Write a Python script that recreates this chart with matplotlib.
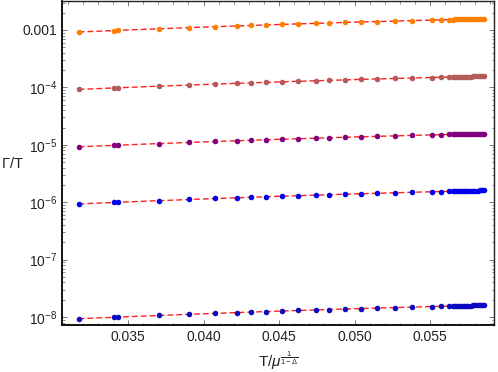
import numpy as np
import matplotlib
matplotlib.use("Agg")
import matplotlib.pyplot as plt
from matplotlib.ticker import FixedLocator, FixedFormatter, MultipleLocator, LogLocator, NullFormatter

plt.rcParams['font.family'] = ['Liberation Sans', 'DejaVu Sans']
plt.rcParams['mathtext.fontset'] = 'custom'
plt.rcParams['mathtext.rm'] = 'Liberation Sans'
plt.rcParams['mathtext.it'] = 'Liberation Sans:italic'
plt.rcParams['mathtext.bf'] = 'Liberation Sans:bold'

# ---- data ----
x_vals = [0.03172, 0.03404, 0.03430, 0.03702, 0.03901, 0.04073, 0.04219, 0.04311,
          0.04411, 0.04517, 0.04623, 0.04742, 0.04834, 0.04940, 0.05040, 0.05152,
          0.05265, 0.05384, 0.05510, 0.05576, 0.05623, 0.05650, 0.05665, 0.05680,
          0.05695, 0.05710, 0.05725, 0.05740, 0.05755, 0.05770, 0.05785, 0.05800,
          0.05815, 0.05830, 0.05845, 0.05860]

orange = [0.920e-3, 0.978e-3, 0.985e-3, 1.052e-3, 1.101e-3, 1.144e-3, 1.179e-3, 1.202e-3,
          1.226e-3, 1.251e-3, 1.277e-3, 1.305e-3, 1.327e-3, 1.353e-3, 1.376e-3, 1.403e-3,
          1.430e-3, 1.458e-3, 1.487e-3, 1.503e-3, 1.514e-3, 1.520e-3, 1.524e-3, 1.527e-3,
          1.531e-3, 1.534e-3, 1.538e-3, 1.541e-3, 1.545e-3, 1.548e-3, 1.552e-3, 1.555e-3,
          1.559e-3, 1.562e-3, 1.566e-3, 1.569e-3]
brown = [0.920e-4, 0.978e-4, 0.985e-4, 1.052e-4, 1.101e-4, 1.144e-4, 1.179e-4, 1.202e-4,
         1.226e-4, 1.251e-4, 1.277e-4, 1.305e-4, 1.327e-4, 1.353e-4, 1.376e-4, 1.403e-4,
         1.430e-4, 1.458e-4, 1.487e-4, 1.503e-4, 1.514e-4, 1.520e-4, 1.524e-4, 1.527e-4,
         1.531e-4, 1.534e-4, 1.538e-4, 1.541e-4, 1.545e-4, 1.548e-4, 1.552e-4, 1.555e-4,
         1.559e-4, 1.562e-4, 1.566e-4, 1.569e-4]
purple = [0.920e-5, 0.978e-5, 0.985e-5, 1.052e-5, 1.101e-5, 1.144e-5, 1.179e-5, 1.202e-5,
          1.226e-5, 1.251e-5, 1.277e-5, 1.305e-5, 1.327e-5, 1.353e-5, 1.376e-5, 1.403e-5,
          1.430e-5, 1.458e-5, 1.487e-5, 1.503e-5, 1.514e-5, 1.520e-5, 1.524e-5, 1.527e-5,
          1.531e-5, 1.534e-5, 1.538e-5, 1.541e-5, 1.545e-5, 1.548e-5, 1.552e-5, 1.555e-5,
          1.559e-5, 1.562e-5, 1.566e-5, 1.569e-5]
blue = [0.930e-6, 0.990e-6, 0.997e-6, 1.066e-6, 1.116e-6, 1.161e-6, 1.197e-6, 1.221e-6,
        1.246e-6, 1.272e-6, 1.299e-6, 1.328e-6, 1.351e-6, 1.378e-6, 1.403e-6, 1.431e-6,
        1.459e-6, 1.489e-6, 1.519e-6, 1.536e-6, 1.548e-6, 1.554e-6, 1.558e-6, 1.562e-6,
        1.566e-6, 1.570e-6, 1.574e-6, 1.577e-6, 1.581e-6, 1.585e-6, 1.589e-6, 1.592e-6,
        1.596e-6, 1.600e-6, 1.604e-6, 1.607e-6]
navy = [0.930e-8, 0.990e-8, 0.997e-8, 1.066e-8, 1.116e-8, 1.161e-8, 1.197e-8, 1.221e-8,
        1.246e-8, 1.272e-8, 1.299e-8, 1.328e-8, 1.351e-8, 1.378e-8, 1.403e-8, 1.431e-8,
        1.459e-8, 1.489e-8, 1.519e-8, 1.536e-8, 1.548e-8, 1.554e-8, 1.558e-8, 1.562e-8,
        1.566e-8, 1.570e-8, 1.574e-8, 1.577e-8, 1.581e-8, 1.585e-8, 1.589e-8, 1.592e-8,
        1.596e-8, 1.600e-8, 1.604e-8, 1.607e-8]

series = [orange, brown, purple, blue, navy]
colors = ['#ff8000', '#b35a5a', '#800080', '#0000ee', '#0a0ac0']

x_ticks = [0.035, 0.040, 0.045, 0.050, 0.055]
x_ticklabels = ['0.035', '0.040', '0.045', '0.050', '0.055']
y_ticks = [1e-8, 1e-7, 1e-6, 1e-5, 1e-4, 1e-3]
y_ticklabels = [r'$10^{-8}$', r'$10^{-7}$', r'$10^{-6}$', r'$10^{-5}$', r'$10^{-4}$', '0.001']

# ---- figure ----
fig = plt.figure(figsize=(4.98, 3.72), dpi=100)
ax = fig.add_axes([62/498, 1-325/372, 432/498, 324/372])

x = np.array(x_vals)
xf = np.linspace(x.min(), x.max(), 200)
for ys, c in zip(series, colors):
    y = np.array(ys)
    ax.plot(x, y, 'o', color=c, ms=4.0, mec='none', zorder=3)
    coef = np.polyfit(x, np.log(y), 2)
    ax.plot(xf, np.exp(np.polyval(coef, xf)), color='#ff2020', lw=1.0,
            dashes=(4.2, 2.2), zorder=2)

ax.set_yscale('log')
ax.set_xlim(0.03062, 0.05924)
ax.set_ylim(7.26e-9, 3.2e-3)

ax.xaxis.set_major_locator(FixedLocator(x_ticks))
ax.xaxis.set_major_formatter(FixedFormatter(x_ticklabels))
ax.xaxis.set_minor_locator(MultipleLocator(0.001))
ax.yaxis.set_major_locator(FixedLocator(y_ticks))
ax.yaxis.set_major_formatter(FixedFormatter(y_ticklabels))
ax.yaxis.set_minor_locator(LogLocator(base=10, subs=np.arange(2, 10), numticks=20))
ax.yaxis.set_minor_formatter(NullFormatter())

ax.tick_params(which='both', direction='in', top=True, right=True, color='#777777',
               labelsize=10, labelcolor='#222222')
ax.tick_params(which='major', length=3.5, width=0.7, pad=3.5)
ax.tick_params(which='minor', length=1.8, width=0.6)

for s in ['left', 'bottom']:
    ax.spines[s].set_linewidth(1.3)
    ax.spines[s].set_color('black')
for s in ['top', 'right']:
    ax.spines[s].set_linewidth(1.0)
    ax.spines[s].set_color('#222222')

ax.set_ylabel(r'$\Gamma$/T', rotation=0, fontsize=10.5, color='#222222')
ax.yaxis.set_label_coords(-0.116, 0.5)
ax.yaxis.label.set_ha('center')
ax.yaxis.label.set_va('center')
ax.set_xlabel(r'T/$\mu^{\frac{1}{1-\Delta}}$', fontsize=11, color='#222222', labelpad=4)

fig.savefig('out.png', dpi=100)
